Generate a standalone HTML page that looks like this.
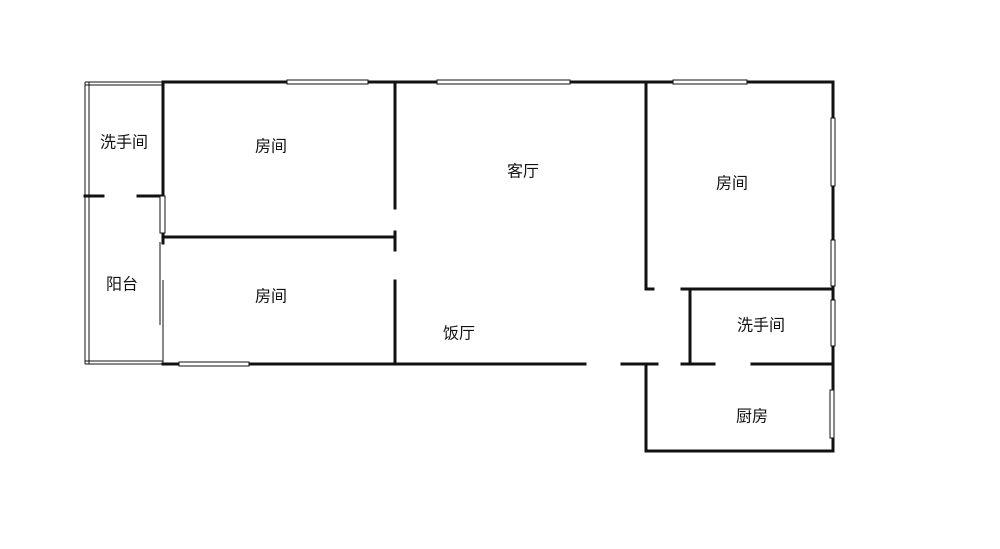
<!DOCTYPE html>
<html><head><meta charset="utf-8"><style>body{margin:0;background:#fff}svg{display:block}text{font-family:"Liberation Sans","Noto Sans CJK SC",sans-serif;font-size:16px;fill:#111;text-anchor:middle;dominant-baseline:central}</style></head><body>
<svg width="1000" height="549" viewBox="0 0 1000 549">
<g stroke="#111" stroke-width="3" fill="none" stroke-linecap="square">
<line x1="163" y1="82" x2="833" y2="82"/>
<line x1="833" y1="82" x2="833" y2="451"/>
<line x1="646" y1="451" x2="833" y2="451"/>
<line x1="646" y1="364" x2="646" y2="451"/>
<line x1="646" y1="82" x2="646" y2="289"/>
<line x1="646" y1="289" x2="653" y2="289"/>
<line x1="682" y1="289" x2="833" y2="289"/>
<line x1="690" y1="289" x2="690" y2="364"/>
<line x1="163" y1="364" x2="585" y2="364"/>
<line x1="622" y1="364" x2="657" y2="364"/>
<line x1="682" y1="364" x2="714" y2="364"/>
<line x1="752" y1="364" x2="833" y2="364"/>
<line x1="163" y1="82" x2="163" y2="196"/>
<line x1="163" y1="233" x2="163" y2="243"/>
<line x1="163" y1="237" x2="395" y2="237"/>
<line x1="395" y1="84" x2="395" y2="208"/>
<line x1="395" y1="232" x2="395" y2="250"/>
<line x1="395" y1="281" x2="395" y2="364"/>
<line x1="85" y1="196" x2="103" y2="196"/>
<line x1="138" y1="196" x2="163" y2="196"/>
</g>
<g stroke="#111" stroke-width="1" fill="none">
<line x1="85" y1="82" x2="85" y2="364"/>
<line x1="89" y1="82" x2="89" y2="364"/>
<line x1="85" y1="82" x2="163" y2="82"/>
<line x1="85" y1="85" x2="163" y2="85"/>
<line x1="85" y1="364" x2="163" y2="364"/>
<line x1="85" y1="361" x2="163" y2="361"/>
<line x1="160" y1="242" x2="160" y2="325"/>
<line x1="163" y1="280" x2="163" y2="364"/>
</g>
<g fill="#fff" stroke="#111" stroke-width="1">
<rect x="287" y="80" width="81" height="4"/>
<rect x="437" y="80" width="133" height="4"/>
<rect x="673" y="80" width="74" height="4"/>
<rect x="179" y="362" width="70" height="4"/>
<rect x="160" y="196" width="5" height="37"/>
<rect x="831" y="118" width="4" height="68"/>
<rect x="831" y="240" width="4" height="46"/>
<rect x="831" y="300" width="4" height="46"/>
<rect x="830" y="390" width="4" height="48"/>
</g>
<text x="124" y="143">洗手间</text>
<text x="271" y="147">房间</text>
<text x="523" y="172">客厅</text>
<text x="732" y="184">房间</text>
<text x="122" y="285">阳台</text>
<text x="271" y="297">房间</text>
<text x="459" y="334">饭厅</text>
<text x="761" y="326">洗手间</text>
<text x="752" y="417">厨房</text>
</svg>
</body></html>
